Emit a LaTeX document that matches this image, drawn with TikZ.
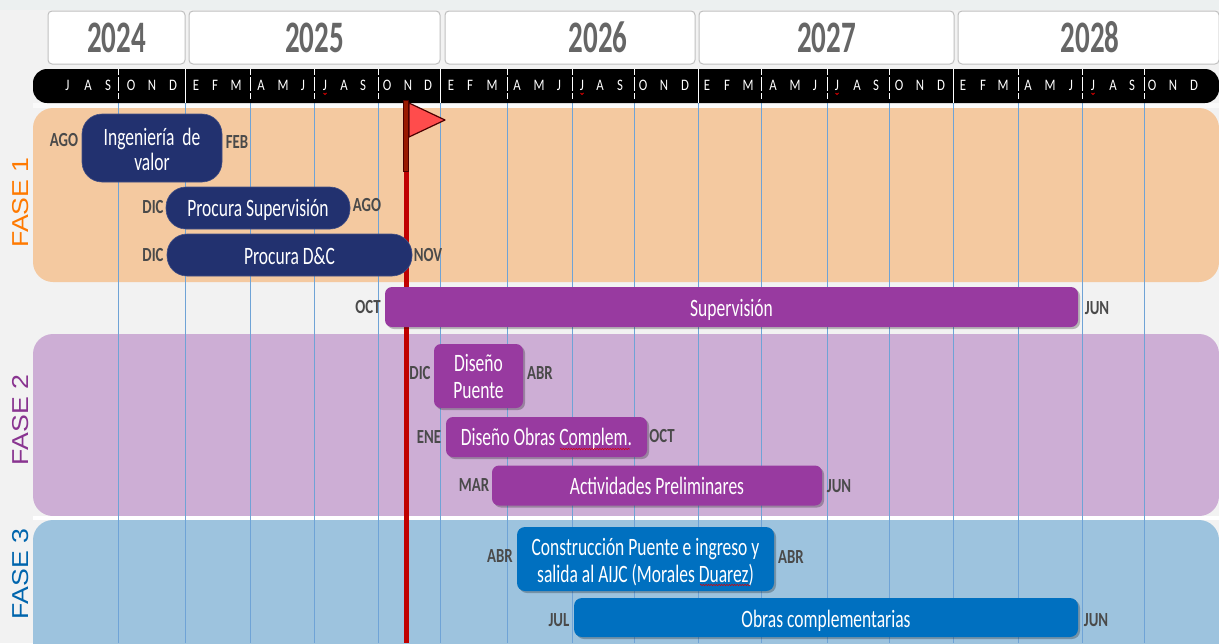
\documentclass[tikz,border=0pt]{standalone}
\usepackage{fontspec}
\usetikzlibrary{shadows,decorations.pathmorphing}
\setmainfont{Carlito}
\newfontfamily\bodyf[FakeStretch=0.70]{Carlito}
\newfontfamily\yearf[FakeStretch=0.645]{Carlito Bold}
\newfontfamily\tagf[FakeStretch=0.74]{Carlito Bold}
\newfontfamily\monf[FakeStretch=0.80]{Carlito}
\newfontfamily\fasef[FakeStretch=1.16]{Liberation Sans}
\newcommand\txt[2]{\raisebox{-#1}[0pt][0pt]{\begin{tabular}{@{}c@{}}#2\end{tabular}}}
\definecolor{bgc}{HTML}{F2F2F2}
\definecolor{topc}{HTML}{ECF0F0}
\definecolor{f1c}{HTML}{F4C9A0}
\definecolor{f2c}{HTML}{CDAED5}
\definecolor{f3c}{HTML}{9DC3DE}
\definecolor{gridc}{HTML}{6FA3D6}
\definecolor{navyc}{HTML}{22316F}
\definecolor{purpc}{HTML}{983AA0}
\definecolor{bluec}{HTML}{0070C0}
\definecolor{tagc}{HTML}{4A4A4A}
\definecolor{yearc}{HTML}{666666}
\definecolor{redc}{HTML}{C00000}
\tikzset{
  band/.style={rounded corners=20pt},
  yearbox/.style={draw=black!25,line width=1pt,fill=white,rounded corners=4pt,inner sep=0pt,text=yearc,font=\fontsize{45}{45}\yearf},
  yeartxt/.style={text=yearc,inner sep=0pt,font=\fontsize{45}{45}\yearf},
  monthtxt/.style={text=white,inner sep=0pt,font=\fontsize{16}{16}\monf},
  tagtxt/.style={text=tagc,inner sep=0pt,font=\fontsize{20}{20}\tagf},
  phase/.style={rotate=90,inner sep=0pt,font=\fontsize{23}{23}\fasef},
  barbase/.style={inner sep=0pt,text=white,align=center,font=\fontsize{25}{27}\bodyf},
  navybar/.style={barbase,fill=navyc,rounded corners=20pt,draw=navyc!85!white,line width=.6pt},
  purpbar/.style={barbase,fill=purpc,rounded corners=7pt,drop shadow={shadow xshift=2pt,shadow yshift=-2pt,opacity=.25,fill=black}},
  bluebar/.style={barbase,fill=bluec,rounded corners=8pt,drop shadow={shadow xshift=2pt,shadow yshift=-2pt,opacity=.25,fill=black}},
  gridline/.style={gridc,line width=.8pt},
  spell/.style={red!85!black,line width=.5pt,decorate,decoration={snake,amplitude=.7pt,segment length=2.6pt}}
}
\begin{document}
\begin{tikzpicture}[x=1pt,y=-1pt]
\clip (0,0) rectangle (1219,643);
\fill[bgc] (0,0) rectangle (1219,643);
\fill[topc] (0,0) rectangle (1219,10);
\fill[white!60!bgc] (33,103) rectangle (1219,108);
% bands
\fill[f1c,band] (33,108) rectangle (1219,282);
\fill[f2c,band] (33,334) rectangle (1219,516);
\fill[white] (33,516) rectangle (1219,520);
\fill[f3c,band] (33,520) rectangle (1219,670);
% grid
\foreach \x in {118.5,185,250,314,378,440.5,507,572,634,698,761,827,889,953,1018,1082,1144}
  \draw[gridline] (\x,103) -- (\x,643);
% year boxes
\node[yearbox,minimum width=137pt,minimum height=53pt] (y24) at (116.5,37.5) {2024};
\node[yearbox,minimum width=251pt,minimum height=53pt] (y25) at (314.5,37.5) {2025};
\node[yearbox,minimum width=250pt,minimum height=53pt] (y26) at (570,37.5) {};
\node[yeartxt] (t26) at (598,37.5) {2026};
\node[yearbox,minimum width=255pt,minimum height=53pt] (y27) at (826.5,37.5) {2027};
\node[yearbox,minimum width=261pt,minimum height=53pt] (y28) at (1088.5,37.5) {};
\node[yeartxt] (t28) at (1090,37.5) {2028};
% month bar
\fill[black,rounded corners=14pt] (33,69) rectangle (1219,103);
\foreach \x in {118.5,250,314,378,507,572,634,761,827,889,1018,1082,1144}
  \draw[white,line width=.8pt,dash pattern=on 6pt off 2pt on 14pt off 2pt on 6pt] (\x,69) -- (\x,103);
\foreach \x in {185,440.5,698,953}
  \draw[white,line width=.9pt] (\x,69) -- (\x,103);
\foreach \x/\m [count=\i] in {
 67.5/J,88/A,108/S,131/O,152/N,173/D,196/E,215/F,236/M,261/A,283/M,303/J,
 325/J,344/A,363/S,387/O,408/N,428/D,451/E,470/F,492/M,517/A,539/M,559/J,
 582/J,600/A,620/S,643/O,664/N,685/D,707/E,727/F,748/M,773/A,795/M,815/J,
 837/J,857/A,876/S,899/O,920/N,941/D,963/E,983/F,1003/M,1028/A,1050/M,1071/J,
 1093/J,1113/A,1132/S,1152/O,1173/N,1194/D}
  \node[monthtxt] (m\i) at (\x,85) {\m};
\foreach \x in {325,582,837,1093}
  \draw[red!85!black,line width=.8pt] (\x-1.5,93) -- (\x,94.5) -- (\x+1.5,93);
% today line and flag
\fill[redc] (403.5,170) rectangle (408.5,643);
\draw[line width=1pt,draw=black!70!red,fill=red!50!black!80!orange] (403.5,100) rectangle (408.5,171);
\draw[line width=1.2pt,draw=black!70!red,fill=red!70!white,line join=round] (409,103) -- (445,120) -- (409,137) -- cycle;
% phases
\node[phase,text=orange!95!red] (f1) at (21,202.5) {FASE 1};
\node[phase,text=purpc!90!black] (f2) at (21,420) {FASE 2};
\node[phase,text=bluec!90!black] (f3) at (21,574) {FASE 3};
% bars
\node[navybar,minimum width=140pt,minimum height=68pt] (ing) at (152,148) {\txt{11pt}{Ingeniería\ \ de\\[-2pt]valor}};
\node[navybar,minimum width=184pt,minimum height=42pt] (psup) at (258,208) {\txt{9.5pt}{Procura Supervisión}};
\node[navybar,minimum width=245pt,minimum height=42pt] (pdc) at (289.5,255) {\txt{10pt}{Procura D\&C}};
\node[purpbar,minimum width=693pt,minimum height=40pt] (sup) at (731.5,307) {\txt{10pt}{Supervisión}};
\node[purpbar,minimum width=89pt,minimum height=64pt] (dp) at (478.5,376) {\txt{9.5pt}{Diseño\\Puente}};
\node[purpbar,minimum width=201pt,minimum height=40pt] (doc) at (546.5,437) {\txt{9pt}{Diseño Obras Complem.}};
\node[purpbar,minimum width=330pt,minimum height=40pt] (act) at (657,485.5) {\txt{10pt}{Actividades Preliminares}};
\node[bluebar,minimum width=257pt,minimum height=64pt] (con) at (645.5,559) {\txt{10.5pt}{Construcción Puente e ingreso y\\salida al AIJC (Morales Duarez)}};
\node[bluebar,minimum width=504pt,minimum height=39pt] (obr) at (826,617.5) {\txt{10.5pt}{Obras complementarias}};
\coordinate (w1a) at (560,449); \coordinate (w1b) at (630,449);
\coordinate (w2a) at (700,585); \coordinate (w2b) at (750,585);
\draw[spell] (w1a) -- (w1b);
\draw[spell] (w2a) -- (w2b);
% tags
\foreach \x/\y/\t [count=\i] in {
 64/140/AGO,237/142/FEB,153/207/DIC,367/205/AGO,153/255/DIC,428/255/NOV,
 368/307/OCT,1097/308/JUN,420/373/DIC,540/373/ABR,429/437/ENE,662/436/OCT,
 474/485/MAR,839/486/JUN,500/556/ABR,791/557/ABR,559/620/JUL,1096/620/JUN}
  \node[tagtxt] (tag\i) at (\x,\y) {\t};
\end{tikzpicture}
\end{document}
